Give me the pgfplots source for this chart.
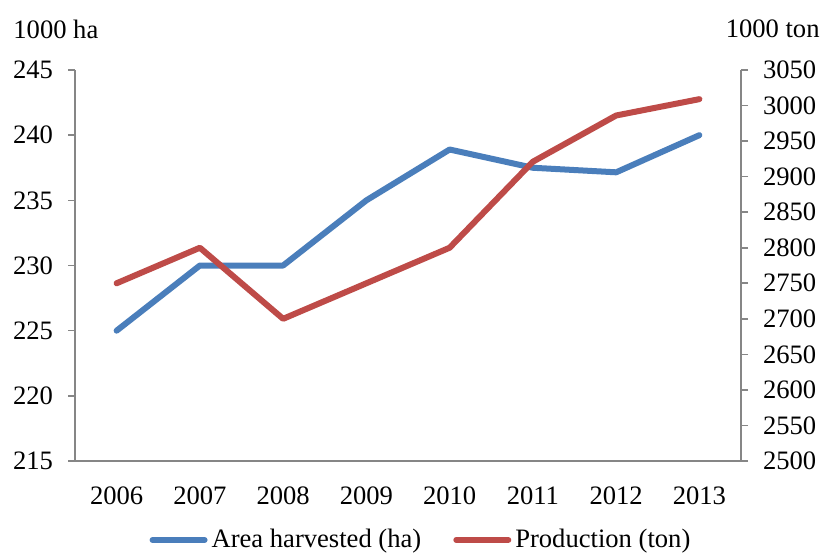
\documentclass[border=0pt]{standalone}
\usepackage{pgfplots}
\pgfplotsset{compat=1.18}
\usepackage{fontspec}
\setmainfont{Liberation Serif}
\definecolor{areablue}{HTML}{4A7EBB}
\definecolor{prodred}{HTML}{BE4B48}
\definecolor{axisgray}{HTML}{868686}
\begin{document}
\begin{tikzpicture}
\pgfplotsset{
  every axis/.style={
    scale only axis,
    width=333pt, height=195.5pt,
    xmin=-0.5, xmax=7.5,
    clip=false,
    font=\fontsize{13.3}{15}\selectfont,
    /pgf/number format/assume math mode=true,
    /pgf/number format/1000 sep={},
    axis line style={axisgray, line width=0.8pt},
    tick style={axisgray, line width=0.8pt},
    tick align=outside,
    major tick length=3.5pt,
    minor tick length=4.5pt,
    axis x line*=bottom,
  },
}
% left axis: harvested area
\begin{axis}[
  name=ax,
  ymin=215, ymax=245,
  ytick={215,220,...,245},
  axis y line*=left,
  xtick={0,...,7},
  xticklabels={2006,2007,2008,2009,2010,2011,2012,2013},
  minor xtick={-0.5,0.5,...,7.5},
  xtick style={draw=none},
  minor x tick style={axisgray, line width=0.8pt},
  xticklabel style={yshift=-6pt},
  yticklabel style={xshift=-4pt},
  legend style={
    at={(0.521,-0.202)}, anchor=center,
    draw=none, legend columns=2,
    /tikz/every even column/.append style={column sep=14pt},
    font=\fontsize{13.3}{15}\selectfont,
  },
  legend cell align=left,
  legend image code/.code={\draw[#1, line width=3pt, line cap=round] (0pt,0pt) -- (26pt,0pt);},
]
\addplot[areablue, line width=3pt, line join=round, line cap=round] coordinates {
  (0,225) (1,230) (2,230) (3,235) (4,238.9) (5,237.5) (6,237.15) (7,240)
};
\addlegendentry{Area harvested (ha)}
\addlegendimage{prodred}
\addlegendentry{Production (ton)}
\node[anchor=base west, inner sep=0pt] at ([xshift=-31pt,yshift=16pt]rel axis cs:0,1) {1000 ha};
\end{axis}
% right axis: production
\begin{axis}[
  ymin=2500, ymax=3050,
  ytick={2500,2550,...,3050},
  axis y line*=right,
  axis x line=none,
  xtick=\empty,
  yticklabel style={xshift=4pt},
]
\addplot[prodred, line width=3pt, line join=round, line cap=round] coordinates {
  (0,2750) (1,2800) (2,2700) (3,2750) (4,2800) (5,2921) (6,2986) (7,3009)
};
\node[anchor=base east, inner sep=0pt] at ([xshift=39.5pt,yshift=16pt]rel axis cs:1,1) {1000 ton};
\end{axis}
\pgfresetboundingbox
\path ([shift={(-37.5pt,-45.5pt)}]ax.south west) rectangle ([shift={(40.5pt,35pt)}]ax.north east);
\end{tikzpicture}
\end{document}
